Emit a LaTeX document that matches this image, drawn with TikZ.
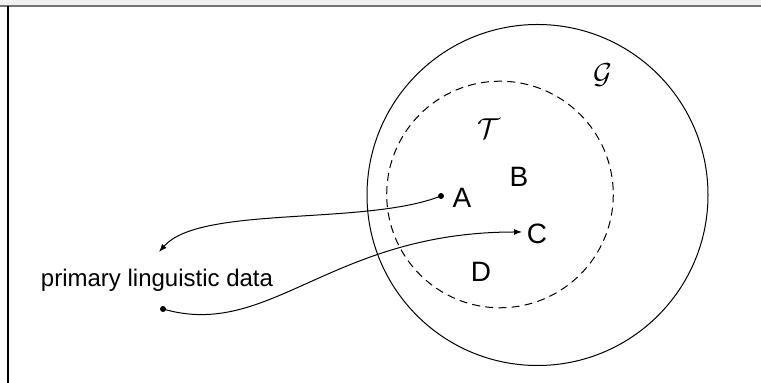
\documentclass[tikz,border=0pt]{standalone}
\usepackage{fontspec}
\setmainfont{Liberation Sans}
\usetikzlibrary{arrows.meta}
\begin{document}
\begin{tikzpicture}[x=0.5pt,y=-0.5pt,
  line width=0.5pt,
  lbl/.style={inner sep=0pt,font=\fontsize{14}{16}\selectfont},
  cal/.style={inner sep=0pt,font=\fontsize{14}{16}\selectfont},
  dotnode/.style={circle,fill=black,inner sep=0pt,minimum size=3pt},
  conn/.style={-{Latex[length=4pt,width=3pt]},line width=0.5pt}]
\useasboundingbox (0,0) rectangle (761,383);
\fill[black!6] (0,0) rectangle (761,5);
\draw[black!55,line width=0.8pt] (0,5.8) -- (761,5.8);
\draw[black,line width=0.8pt] (8,6) -- (8,383);
% sets
\draw (537.5,195) circle[radius=170.5];
\draw[dash pattern=on 4pt off 2.6pt] (500,194.5) circle[radius=113.3];
\node[cal] (G) at (603,75) {$\mathcal{G}$};
\node[cal] (T) at (489,129) {$\mathcal{T}$};
\node[lbl] (B) at (519,177) {B};
\node[lbl] (A) at (462,198) {A};
\node[lbl] (C) at (537,234) {C};
\node[lbl] (D) at (481,272) {D};
\node[inner sep=0pt,font=\fontsize{12}{14}\selectfont] (pld) at (157,280) {primary linguistic data};
\node[dotnode] (adot) at (441,196) {};
\node[dotnode] (pdot) at (163,309) {};
\coordinate (ptip) at (159,252);
\coordinate (ctip) at (522,232);
\draw[conn] (adot.center) .. controls (365,226) and (200,205) .. (ptip);
\draw[conn] (pdot.center) .. controls (270,340) and (330,232) .. (ctip);
\end{tikzpicture}
\end{document}
